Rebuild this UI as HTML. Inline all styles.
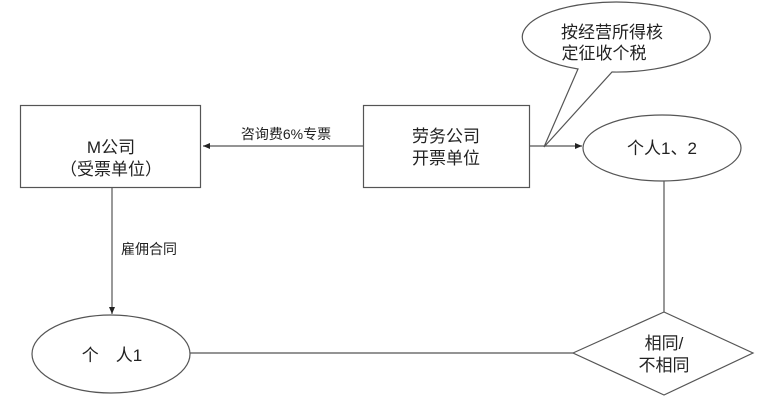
<!DOCTYPE html>
<html><head><meta charset="utf-8"><style>
html,body{margin:0;padding:0;background:#fff;}
svg text{font-family:"Liberation Sans","Noto Sans CJK SC",sans-serif;fill:#222;}
</style></head><body>
<svg width="768" height="409" viewBox="0 0 768 409" xmlns="http://www.w3.org/2000/svg">
<defs><marker id="a" markerWidth="8" markerHeight="8" refX="7" refY="4" orient="auto" markerUnits="userSpaceOnUse"><path d="M0,1 L7,4 L0,7z" fill="#222"/></marker></defs>
<g stroke="#555" stroke-width="1.2" fill="none">
<rect x="20.5" y="105.5" width="180" height="82"/>
<rect x="363.5" y="105.5" width="166" height="82"/>
<line x1="363" y1="146" x2="203" y2="146" marker-end="url(#a)"/>
<line x1="530" y1="146" x2="582" y2="146" marker-end="url(#a)"/>
<ellipse cx="662" cy="148" rx="79" ry="33" />
<line x1="112" y1="188" x2="112" y2="314" marker-end="url(#a)"/>
<ellipse cx="111" cy="354" rx="79" ry="39"/>
<line x1="190" y1="353" x2="573" y2="353"/>
<polygon points="573,353 664,312 753,353 664,395" fill="#fff"/>
<line x1="664" y1="181" x2="664" y2="312"/>
<path d="M578,69 A94,35 0 1 1 612,72 L544,147 Z" fill="#fff"/>
</g>
<g font-size="17" text-anchor="middle">
<text x="111" y="153">M公司</text>
<text x="111" y="175">（受票单位）</text>
<text x="446" y="142">劳务公司</text>
<text x="446" y="164">开票单位</text>
<text x="662" y="154">个人1、2</text>
<text x="112" y="361">个　人1</text>
<text x="664" y="349">相同/</text>
<text x="664" y="371">不相同</text>
<text x="612" y="38">按经营所得核</text>
<text x="604" y="59">定征收个税</text>
</g>
<g font-size="14" text-anchor="middle">
<text x="286" y="139">咨询费6%专票</text>
<text x="149" y="254">雇佣合同</text>
</g>
</svg>
</body></html>
